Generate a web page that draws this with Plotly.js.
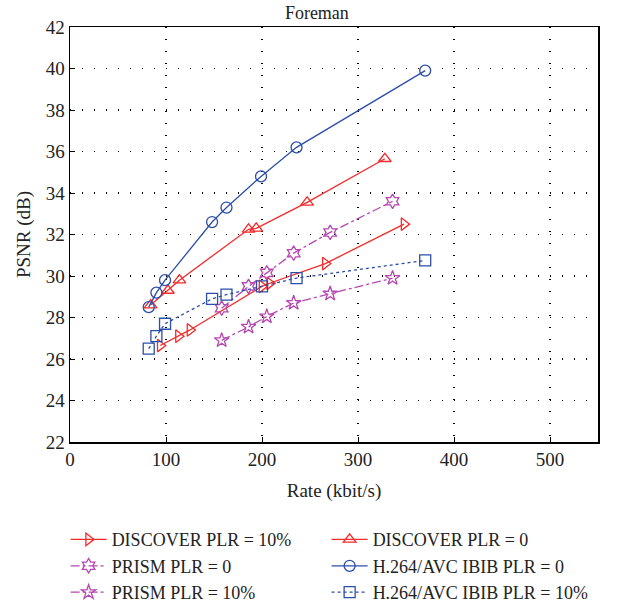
<!DOCTYPE html>
<html>
<head>
<meta charset="utf-8">
<script src="https://cdn.plot.ly/plotly-3.0.1.min.js"></script>
<style>
html,body{margin:0;padding:0;background:#fff;}
#chart{width:625px;height:611px;}
#chart text{font-family:'Liberation Serif','Times New Roman',serif !important;}
</style>
</head>
<body>
<div id="chart"></div>
<script>
var discover10X = [94, 113, 125, 200, 208, 266, 348];
var discover10Y = [26.65, 27.1, 27.4, 29.5, 29.65, 30.6, 32.5];
var discover0X = [84, 102, 114, 186, 194, 247, 328];
var discover0Y = [28.6, 29.3, 29.8, 32.25, 32.3, 33.55, 35.65];
var prism0X = [158, 186, 205, 233, 271, 336];
var prism0Y = [28.45, 29.5, 30.15, 31.1, 32.1, 33.6];
var h264_0X = [82, 90, 99, 148, 163, 199, 236, 370];
var h264_0Y = [28.5, 29.2, 29.8, 32.6, 33.3, 34.8, 36.2, 39.9];
var prism10X = [158, 186, 205, 233, 271, 336];
var prism10Y = [26.9, 27.55, 28.05, 28.7, 29.15, 29.9];
var h264_10X = [82, 90, 99, 148, 163, 200, 236, 370];
var h264_10Y = [26.5, 27.1, 27.7, 28.9, 29.1, 29.5, 29.9, 30.75];

var RED = '#f52a2a', BLUE = '#2c4ea8', PURPLE = '#b548b0';
var TXT = '#222222';
var SERIF = 'Liberation Serif';

function tr(name, x, y, color, dash, symbol) {
  return {
    type: 'scatter', mode: 'lines+markers', name: name, x: x, y: y,
    line: {color: color, width: 1.3, dash: dash},
    marker: {symbol: symbol, size: 11, color: color, line: {color: color, width: 1.3}}
  };
}

var data = [
  tr('DISCOVER PLR = 10%', discover10X, discover10Y, RED, 'solid', 'triangle-right-open'),
  tr('DISCOVER PLR = 0', discover0X, discover0Y, RED, 'solid', 'triangle-up-open'),
  tr('PRISM PLR = 0', prism0X, prism0Y, PURPLE, 'dashdot', 'hexagram-open'),
  tr('H.264/AVC IBIB PLR = 0', h264_0X, h264_0Y, BLUE, 'solid', 'circle-open'),
  tr('PRISM PLR = 10%', prism10X, prism10Y, PURPLE, 'dashdot', 'star-open'),
  tr('H.264/AVC IBIB PLR = 10%', h264_10X, h264_10Y, BLUE, 'dot', 'square-open')
];

function axisBase() {
  return {
    showline: true, mirror: true, linecolor: '#000', linewidth: 1.5,
    ticks: 'inside', ticklen: 5, tickcolor: '#000',
    showgrid: true, gridcolor: '#000', griddash: '1px,11px', gridwidth: 1.2,
    zeroline: false, tickfont: {family: SERIF, size: 19, color: TXT}
  };
}

var xa = axisBase();
xa.range = [0, 550];
xa.tickvals = [0, 100, 200, 300, 400, 500];
xa.title = {text: 'Rate (kbit/s)', font: {family: SERIF, size: 19, color: TXT}, standoff: 14};
var ya = axisBase();
ya.range = [22, 42];
ya.dtick = 2;
ya.title = {text: 'PSNR (dB)', font: {family: SERIF, size: 19, color: TXT}, standoff: 10};

var layout = {
  width: 625, height: 611,
  paper_bgcolor: '#fff', plot_bgcolor: '#fff',
  margin: {l: 70, r: 27, t: 27, b: 169, autoexpand: false},
  font: {family: SERIF, size: 19, color: TXT},
  title: {text: 'Foreman', font: {family: SERIF, size: 18, color: TXT}, x: 0.507, xref: 'container', y: 0.99, yanchor: 'top'},
  xaxis: xa,
  yaxis: ya,
  showlegend: true,
  legend: {
    orientation: 'h', x: 0.105, xanchor: 'left', y: 0.147, yanchor: 'top',
    xref: 'container', yref: 'container', entrywidth: 210, entrywidthmode: 'pixels',
    font: {family: SERIF, size: 18, color: TXT}, tracegroupgap: 0,
    bgcolor: 'rgba(0,0,0,0)', itemwidth: 36
  }
};

Plotly.newPlot('chart', data, layout, {displayModeBar: false, staticPlot: true});
</script>
</body>
</html>
